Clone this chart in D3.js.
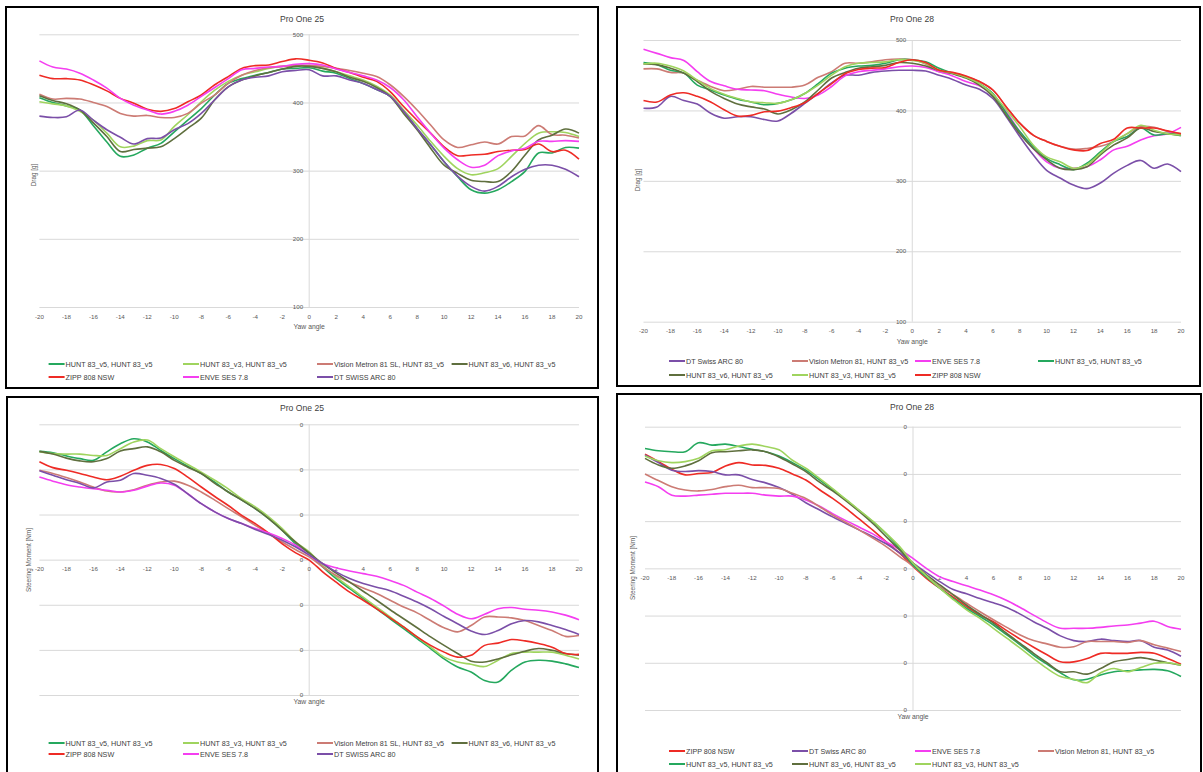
<!DOCTYPE html>
<html lang="en">
<head>
    <meta charset="UTF-8">
    <script src="https://cdn.jsdelivr.net/npm/d3@7/dist/d3.min.js"></script>
    <style>
        body { margin: 0; background: #fff; }
        text { font-family: "Liberation Sans", Arial, sans-serif; }
    </style>
</head>
<body>
<svg id="svg1" width="1203" height="772"></svg>
<script>
    // yaw angles (degrees)
    const yawAngles = [-20,-19,-18,-17,-16,-15,-14,-13,-12,-11,-10,-9,-8,-7,-6,-5,-4,-3,-2,-1,0,1,2,3,4,5,6,7,8,9,10,11,12,13,14,15,16,17,18,19,20];
    const xTicks = [-20,-18,-16,-14,-12,-10,-8,-6,-4,-2,0,2,4,6,8,10,12,14,16,18,20];
    const dragTicks = [100, 200, 300, 400, 500];
    const momentTicks = [-0.3, -0.2, -0.1, 0, 0.1, 0.2, 0.3];

    // Pro One 25 - drag [g]
    const drag25HuntV5 = [407,400,395,389,366,342,321,323,333,340,357,374,391,411,428,435,440,444,449,450,451,446,443,435,428,419,409,387,362,338,313,291,272,267,272,284,299,326,326,334,333];
    const drag25HuntV3 = [401,398,395,387,374,355,335,336,344,345,365,382,401,418,431,440,445,450,453,454,454,450,445,439,433,424,411,389,367,343,321,303,294,297,303,321,340,355,357,356,350];
    const drag25Vision = [412,405,406,405,400,394,384,380,381,378,378,384,399,411,428,440,447,451,453,454,454,453,450,447,443,438,426,409,389,367,345,334,338,342,339,350,351,366,353,352,348];
    const drag25HuntV6 = [410,403,398,389,370,350,328,331,333,335,347,362,377,404,423,433,439,444,449,453,453,450,445,437,431,422,409,384,360,333,308,296,286,284,284,299,323,345,352,361,355];
    const drag25Zipp   = [440,435,435,433,426,417,406,399,390,387,391,401,411,426,438,450,454,455,460,464,462,458,450,444,437,431,416,394,374,355,335,322,323,324,328,330,331,339,328,330,317];
    const drag25Enve   = [461,452,449,443,433,421,406,396,389,383,387,396,409,422,435,448,450,452,453,456,457,455,449,444,439,433,422,404,379,355,333,316,305,308,322,329,333,343,343,344,343];
    const drag25Dt     = [380,378,379,389,374,360,349,339,347,348,360,369,384,404,423,433,437,439,445,447,448,439,439,433,428,419,409,387,362,338,313,292,277,270,277,291,302,308,308,302,291];

    // Pro One 28 - drag [g]
    const drag28Dt     = [403,405,420,414,409,396,389,391,391,387,385,396,410,424,439,450,450,454,456,457,457,456,450,444,436,430,417,391,363,337,315,304,294,289,297,311,322,329,318,324,313];
    const drag28Vision = [459,459,454,453,443,434,428,430,434,433,433,433,436,447,455,467,467,469,472,473,472,466,455,453,448,441,429,405,382,365,356,349,345,346,349,356,367,377,376,370,367];
    const drag28Enve   = [487,481,475,471,455,441,435,430,429,428,423,419,417,422,434,449,455,457,459,462,463,461,455,449,441,435,422,398,370,346,327,318,318,320,330,344,349,358,364,367,376];
    const drag28HuntV5 = [468,465,457,453,436,429,422,416,412,408,410,415,424,438,453,460,463,464,467,472,472,469,460,453,447,438,424,396,370,349,332,323,316,325,341,356,363,375,365,367,364];
    const drag28HuntV6 = [466,465,460,453,441,427,417,409,405,402,395,401,412,429,446,454,460,462,464,468,467,463,457,452,446,436,420,393,367,346,330,318,316,320,337,351,361,375,370,367,365];
    const drag28HuntV3 = [466,467,463,456,443,431,423,417,412,411,410,415,424,436,450,462,467,468,469,472,471,467,457,453,447,438,423,401,377,351,334,327,318,323,339,356,367,379,372,367,365];
    const drag28Zipp   = [414,412,422,425,420,412,401,392,393,398,399,404,411,424,438,452,458,460,461,468,472,468,457,454,449,441,429,405,382,365,356,349,344,343,353,359,375,375,375,371,367];

    // Pro One 25 - steering moment [Nm]
    const steer25HuntV5 = [0.240,0.237,0.230,0.224,0.220,0.239,0.257,0.268,0.261,0.242,0.224,0.207,0.191,0.172,0.150,0.132,0.113,0.091,0.065,0.035,0.013,-0.016,-0.042,-0.064,-0.086,-0.109,-0.131,-0.153,-0.175,-0.197,-0.220,-0.238,-0.249,-0.268,-0.271,-0.245,-0.227,-0.223,-0.225,-0.231,-0.239];
    const steer25HuntV3 = [0.239,0.235,0.234,0.234,0.231,0.231,0.246,0.261,0.265,0.246,0.228,0.211,0.194,0.176,0.157,0.135,0.117,0.095,0.069,0.039,0.017,-0.013,-0.038,-0.061,-0.083,-0.105,-0.127,-0.149,-0.171,-0.194,-0.216,-0.227,-0.232,-0.237,-0.223,-0.208,-0.205,-0.205,-0.205,-0.212,-0.220];
    const steer25Vision = [0.198,0.191,0.182,0.172,0.161,0.152,0.150,0.155,0.165,0.172,0.174,0.165,0.150,0.132,0.113,0.095,0.076,0.058,0.039,0.022,0.006,-0.016,-0.035,-0.050,-0.063,-0.075,-0.090,-0.105,-0.118,-0.135,-0.151,-0.160,-0.146,-0.127,-0.127,-0.129,-0.135,-0.146,-0.157,-0.170,-0.168];
    const steer25HuntV6 = [0.240,0.234,0.225,0.219,0.217,0.224,0.241,0.246,0.250,0.239,0.220,0.205,0.191,0.169,0.150,0.132,0.113,0.091,0.065,0.039,0.015,-0.009,-0.030,-0.050,-0.070,-0.090,-0.111,-0.131,-0.151,-0.171,-0.190,-0.208,-0.225,-0.227,-0.220,-0.211,-0.203,-0.197,-0.201,-0.208,-0.212];
    const steer25Zipp   = [0.217,0.204,0.198,0.191,0.183,0.177,0.185,0.198,0.209,0.211,0.202,0.183,0.161,0.140,0.120,0.098,0.080,0.059,0.035,0.015,-0.001,-0.027,-0.050,-0.072,-0.090,-0.109,-0.129,-0.149,-0.171,-0.190,-0.205,-0.216,-0.212,-0.190,-0.185,-0.177,-0.180,-0.186,-0.194,-0.208,-0.210];
    const steer25Enve   = [0.183,0.174,0.166,0.161,0.157,0.154,0.150,0.154,0.163,0.170,0.165,0.146,0.124,0.106,0.091,0.080,0.069,0.059,0.047,0.032,0.010,-0.009,-0.018,-0.025,-0.031,-0.037,-0.046,-0.057,-0.072,-0.086,-0.103,-0.121,-0.131,-0.121,-0.109,-0.106,-0.110,-0.112,-0.116,-0.123,-0.133];
    const steer25Dt     = [0.197,0.187,0.177,0.169,0.159,0.172,0.176,0.191,0.187,0.180,0.167,0.146,0.124,0.106,0.091,0.080,0.067,0.056,0.043,0.028,0.010,-0.009,-0.027,-0.042,-0.053,-0.061,-0.069,-0.081,-0.094,-0.109,-0.126,-0.142,-0.158,-0.166,-0.157,-0.142,-0.135,-0.138,-0.146,-0.155,-0.166];

    // Pro One 28 - steering moment [Nm]
    const steer28Zipp   = [0.242,0.226,0.210,0.198,0.201,0.203,0.217,0.224,0.219,0.218,0.212,0.200,0.187,0.167,0.148,0.127,0.104,0.081,0.056,0.032,0.004,-0.021,-0.042,-0.061,-0.081,-0.099,-0.113,-0.132,-0.150,-0.167,-0.183,-0.198,-0.198,-0.191,-0.180,-0.180,-0.180,-0.178,-0.180,-0.191,-0.203];
    const steer28Dt     = [0.240,0.224,0.208,0.205,0.207,0.205,0.198,0.198,0.188,0.181,0.171,0.157,0.139,0.124,0.109,0.095,0.081,0.067,0.052,0.033,0.011,-0.009,-0.028,-0.045,-0.054,-0.064,-0.073,-0.083,-0.097,-0.113,-0.127,-0.143,-0.153,-0.155,-0.150,-0.153,-0.155,-0.153,-0.167,-0.173,-0.186];
    const steer28Enve   = [0.183,0.173,0.155,0.153,0.155,0.157,0.159,0.159,0.159,0.155,0.153,0.153,0.145,0.132,0.116,0.101,0.087,0.073,0.056,0.040,0.021,0.000,-0.018,-0.028,-0.037,-0.046,-0.056,-0.068,-0.083,-0.099,-0.115,-0.127,-0.127,-0.127,-0.125,-0.122,-0.120,-0.116,-0.112,-0.123,-0.129];
    const steer28Vision = [0.200,0.186,0.173,0.166,0.164,0.167,0.173,0.176,0.171,0.171,0.169,0.159,0.148,0.131,0.113,0.097,0.081,0.064,0.046,0.025,0.005,-0.018,-0.039,-0.056,-0.074,-0.092,-0.109,-0.125,-0.141,-0.153,-0.160,-0.167,-0.166,-0.155,-0.155,-0.155,-0.157,-0.153,-0.162,-0.169,-0.176];
    const steer28HuntV5 = [0.254,0.249,0.247,0.247,0.266,0.261,0.263,0.258,0.252,0.247,0.238,0.224,0.208,0.188,0.167,0.145,0.122,0.099,0.073,0.042,0.007,-0.018,-0.042,-0.064,-0.085,-0.102,-0.120,-0.141,-0.162,-0.184,-0.203,-0.221,-0.236,-0.235,-0.226,-0.219,-0.217,-0.215,-0.214,-0.217,-0.229];
    const steer28HuntV6 = [0.233,0.219,0.212,0.217,0.228,0.245,0.247,0.249,0.251,0.247,0.236,0.221,0.205,0.183,0.164,0.143,0.120,0.095,0.067,0.039,0.011,-0.014,-0.035,-0.056,-0.078,-0.097,-0.116,-0.138,-0.159,-0.180,-0.200,-0.219,-0.219,-0.224,-0.212,-0.198,-0.193,-0.189,-0.194,-0.200,-0.205];
    const steer28HuntV3 = [0.238,0.228,0.224,0.226,0.233,0.249,0.251,0.259,0.263,0.258,0.251,0.229,0.212,0.191,0.169,0.146,0.123,0.100,0.074,0.046,0.011,-0.016,-0.042,-0.066,-0.088,-0.106,-0.127,-0.148,-0.169,-0.191,-0.212,-0.229,-0.235,-0.242,-0.221,-0.212,-0.219,-0.210,-0.201,-0.200,-0.205];

    const colors = {
        huntV5: "#25a85e",
        huntV3: "#9fd45e",
        vision: "#cc7b74",
        huntV6: "#5f6f3e",
        zipp: "#ee2b25",
        enve: "#f43ef0",
        dt: "#7b4fa8"
    };

    let svgElement = d3.select("#svg1");

    const panels = [
        {
            frame: [6, 7, 598, 388], title: "Pro One 25", titleX: 302, titleY: 22,
            xRange: [39.4, 579], yRange: [307, 34.3], yDomain: [100, 500], yTicks: dragTicks,
            fmt: d3.format("d"), axisValue: 100, tickLabelY: 319, yawY: 329,
            yTitle: "Drag [g]", yTitleX: 34, yTitleY: 175,
            legendRows: [364, 377], legendCols: [48.6, 183, 317, 451.6],
            series: [
                ["HUNT 83_v5, HUNT 83_v5", drag25HuntV5, colors.huntV5],
                ["HUNT 83_v3, HUNT 83_v5", drag25HuntV3, colors.huntV3],
                ["Vision Metron 81 SL, HUNT 83_v5", drag25Vision, colors.vision],
                ["HUNT 83_v6, HUNT 83_v5", drag25HuntV6, colors.huntV6],
                ["ZIPP 808 NSW", drag25Zipp, colors.zipp],
                ["ENVE SES 7.8", drag25Enve, colors.enve],
                ["DT SWISS ARC 80", drag25Dt, colors.dt]
            ]
        },
        {
            frame: [617, 7, 1200, 386], title: "Pro One 28", titleX: 912, titleY: 22,
            xRange: [643.5, 1181], yRange: [321.7, 40], yDomain: [100, 500], yTicks: dragTicks,
            fmt: d3.format("d"), axisValue: 100, tickLabelY: 333, yawY: 344,
            yTitle: "Drag [g]", yTitleX: 638, yTitleY: 180,
            legendRows: [361, 375], legendCols: [669, 792, 915, 1038],
            series: [
                ["DT Swiss ARC 80", drag28Dt, colors.dt],
                ["Vision Metron 81, HUNT 83_v5", drag28Vision, colors.vision],
                ["ENVE SES 7.8", drag28Enve, colors.enve],
                ["HUNT 83_v5, HUNT 83_v5", drag28HuntV5, colors.huntV5],
                ["HUNT 83_v6, HUNT 83_v5", drag28HuntV6, colors.huntV6],
                ["HUNT 83_v3, HUNT 83_v5", drag28HuntV3, colors.huntV3],
                ["ZIPP 808 NSW", drag28Zipp, colors.zipp]
            ]
        },
        {
            frame: [7, 397, 598, 780], title: "Pro One 25", titleX: 302, titleY: 411,
            xRange: [39.4, 579], yRange: [695, 424.3], yDomain: [-0.3, 0.3], yTicks: momentTicks,
            fmt: d => String(Math.round(d)), axisValue: 0, tickLabelY: 571, yawY: 704,
            yTitle: "Steering Moment [Nm]", yTitleX: 29, yTitleY: 560,
            legendRows: [743, 754], legendCols: [48.6, 183, 317, 451.6],
            series: [
                ["HUNT 83_v5, HUNT 83_v5", steer25HuntV5, colors.huntV5],
                ["HUNT 83_v3, HUNT 83_v5", steer25HuntV3, colors.huntV3],
                ["Vision Metron 81 SL, HUNT 83_v5", steer25Vision, colors.vision],
                ["HUNT 83_v6, HUNT 83_v5", steer25HuntV6, colors.huntV6],
                ["ZIPP 808 NSW", steer25Zipp, colors.zipp],
                ["ENVE SES 7.8", steer25Enve, colors.enve],
                ["DT SWISS ARC 80", steer25Dt, colors.dt]
            ]
        },
        {
            frame: [617, 394, 1201, 780], title: "Pro One 28", titleX: 912, titleY: 410,
            xRange: [645, 1181], yRange: [710, 426.7], yDomain: [-0.3, 0.3], yTicks: momentTicks,
            fmt: d => String(Math.round(d)), axisValue: 0, tickLabelY: 580, yawY: 719,
            yTitle: "Steering Moment [Nm]", yTitleX: 633, yTitleY: 568,
            legendRows: [751, 764], legendCols: [669, 792, 915, 1038],
            series: [
                ["ZIPP 808 NSW", steer28Zipp, colors.zipp],
                ["DT Swiss ARC 80", steer28Dt, colors.dt],
                ["ENVE SES 7.8", steer28Enve, colors.enve],
                ["Vision Metron 81, HUNT 83_v5", steer28Vision, colors.vision],
                ["HUNT 83_v5, HUNT 83_v5", steer28HuntV5, colors.huntV5],
                ["HUNT 83_v6, HUNT 83_v5", steer28HuntV6, colors.huntV6],
                ["HUNT 83_v3, HUNT 83_v5", steer28HuntV3, colors.huntV3]
            ]
        }
    ];

    function drawPanel(p) {
        let g = svgElement.append("g");
        let x = d3.scaleLinear().domain([-20, 20]).range(p.xRange);
        let y = d3.scaleLinear().domain(p.yDomain).range(p.yRange);

        // gridlines
        g.append("g")
            .attr("transform", "translate(0,0)")
            .call(d3.axisLeft(y).tickValues(p.yTicks).tickSize(-(p.xRange[1] - p.xRange[0])).tickFormat(""))
            .attr("transform", "translate(" + p.xRange[0] + ",0)")
            .call(a => a.select(".domain").remove())
            .call(a => a.selectAll("line").attr("stroke", "#d9d9d9").attr("stroke-width", 1));

        // vertical value axis at yaw 0
        g.append("line")
            .attr("x1", x(0)).attr("x2", x(0))
            .attr("y1", y(p.yDomain[1])).attr("y2", y(p.yDomain[0]))
            .attr("stroke", "#d9d9d9").attr("stroke-width", 1);

        // y tick labels, left of the zero line
        g.selectAll(".ylab").data(p.yTicks).enter().append("text")
            .attr("x", x(0) - 6)
            .attr("y", d => y(d) + 2.2)
            .attr("text-anchor", "end")
            .attr("font-size", 6.2)
            .attr("fill", "#595959")
            .text(p.fmt);

        // x tick labels
        g.selectAll(".xlab").data(xTicks).enter().append("text")
            .attr("x", d => x(d))
            .attr("y", p.tickLabelY)
            .attr("text-anchor", "middle")
            .attr("font-size", 6.2)
            .attr("fill", "#595959")
            .text(d => d3.format("d")(d).replace("−", "-"));

        // series
        let line = d3.line()
            .x((d, i) => x(yawAngles[i]))
            .y(d => y(d))
            .curve(d3.curveCatmullRom.alpha(0.5));

        p.series.forEach(s => {
            g.append("path")
                .attr("d", line(s[1]))
                .attr("fill", "none")
                .attr("stroke", s[2])
                .attr("stroke-width", 1.6)
                .attr("stroke-linejoin", "round");
        });

        // titles
        g.append("text")
            .attr("x", p.titleX).attr("y", p.titleY)
            .attr("text-anchor", "middle")
            .attr("font-size", 8.6)
            .attr("fill", "#404040")
            .text(p.title);

        g.append("text")
            .attr("x", x(0)).attr("y", p.yawY)
            .attr("text-anchor", "middle")
            .attr("font-size", 6.8)
            .attr("fill", "#595959")
            .text("Yaw angle");

        g.append("text")
            .attr("transform", "translate(" + p.yTitleX + "," + p.yTitleY + ") rotate(-90)")
            .attr("text-anchor", "middle")
            .attr("dy", "0.35em")
            .attr("font-size", 6.4)
            .attr("fill", "#595959")
            .text(p.yTitle);

        // legend
        p.series.forEach((s, i) => {
            let lx = p.legendCols[i % 4];
            let ly = p.legendRows[Math.floor(i / 4)];
            g.append("line")
                .attr("x1", lx).attr("x2", lx + 16)
                .attr("y1", ly).attr("y2", ly)
                .attr("stroke", s[2]).attr("stroke-width", 2);
            g.append("text")
                .attr("x", lx + 17).attr("y", ly + 2.6)
                .attr("font-size", 7.2)
                .attr("fill", "#404040")
                .text(s[0]);
        });

        // frame
        svgElement.append("rect")
            .attr("x", p.frame[0]).attr("y", p.frame[1])
            .attr("width", p.frame[2] - p.frame[0])
            .attr("height", p.frame[3] - p.frame[1])
            .attr("fill", "none")
            .attr("stroke", "#000")
            .attr("stroke-width", 2);
    }

    panels.forEach(drawPanel);
</script>
</body>
</html>
